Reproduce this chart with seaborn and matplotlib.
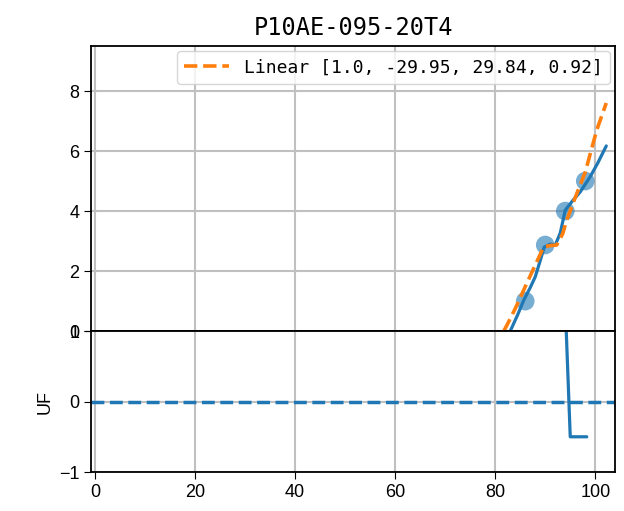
import numpy as np
import pandas as pd
import matplotlib
matplotlib.use("Agg")
import matplotlib.pyplot as plt
import seaborn as sns

# veriler
nokta_x = [86, 90, 94, 98]
nokta_y = [1.0, 2.87, 4.0, 5.0]

egri_x = [83, 84.5, 85.7, 87, 88, 89, 89.8, 91, 92, 93, 94, 95.5, 97, 99, 100.5, 102.2]
egri_y = [0.0, 0.55, 1.03, 1.45, 1.81, 2.35, 2.8, 2.9, 2.87, 3.27, 4.03, 4.35, 4.64, 5.15, 5.6, 6.17]

lineer_x = [81.7, 82.5, 84, 86.3, 88, 89.7, 91, 92.3, 93.5, 94.3, 96, 98, 100.3, 102.2]
lineer_y = [0.0, 0.25, 0.75, 1.59, 2.2, 2.81, 2.85, 2.87, 3.25, 3.7, 4.45, 5.3, 6.7, 7.6]

uf_x = [94.2, 95, 98.3]
uf_y = [1.0, -0.5, -0.5]

baslik = "P10AE-095-20T4"
etiket = "Linear [1.0, -29.95, 29.84, 0.92]"

sns.set_style("white")
plt.rcParams['font.family'] = ['Liberation Sans', 'DejaVu Sans']
plt.rcParams['axes.unicode_minus'] = True
plt.rcParams['text.color'] = 'black'
plt.rcParams['xtick.color'] = 'black'
plt.rcParams['ytick.color'] = 'black'
plt.rcParams['axes.labelcolor'] = 'black'

fig = plt.figure(figsize=(6.24, 5.11), dpi=100)
ax1 = fig.add_axes([0.146, 0.352, 0.84, 0.558])
ax2 = fig.add_axes([0.146, 0.0763, 0.84, 0.2757], sharex=ax1)

df_nokta = pd.DataFrame({"x": nokta_x, "y": nokta_y})
df_egri = pd.DataFrame({"x": egri_x, "y": egri_y})
df_lin = pd.DataFrame({"x": lineer_x, "y": lineer_y})
df_uf = pd.DataFrame({"x": uf_x, "y": uf_y})

sns.scatterplot(data=df_nokta, x="x", y="y", ax=ax1, s=180, color="C0", alpha=0.6, edgecolor="none")
sns.lineplot(data=df_egri, x="x", y="y", ax=ax1, color="C0", lw=2.3, sort=False)
sns.lineplot(data=df_lin, x="x", y="y", ax=ax1, color="C1", lw=2.6, ls="--", sort=False, label=etiket)

ax1.set_xlim(-0.8, 104)
ax1.set_ylim(0, 9.5)
ax1.set_yticks([0, 2, 4, 6, 8])
ax1.grid(True, color="#c0c0c0", lw=1.5)
ax1.set_xlabel("")
ax1.set_ylabel("")
ax1.tick_params(axis="x", labelbottom=False)
ax1.tick_params(labelsize=13, length=5, left=True, bottom=True)
ax1.set_title(baslik, fontsize=17, family="DejaVu Sans Mono", pad=8)
ax1.legend(loc="upper right", prop={"family": "DejaVu Sans Mono", "size": 13},
           handlelength=2.5, borderaxespad=0.3)

sns.lineplot(data=df_uf, x="x", y="y", ax=ax2, color="C0", lw=2.3, sort=False)
ax2.axhline(0, color="C0", ls="--", lw=2.5)
ax2.set_ylim(-1, 1)
ax2.set_yticks([-1, 0, 1])
ax2.grid(True, color="#c0c0c0", lw=1.5)
ax2.set_xlabel("")
ax2.set_ylabel("UF", fontsize=13)
ax2.set_xticks([0, 20, 40, 60, 80, 100])
ax2.tick_params(labelsize=13, length=5, left=True, bottom=True)

for ax in (ax1, ax2):
    for sp in ax.spines.values():
        sp.set_color("black")
        sp.set_linewidth(1.3)

fig.savefig("out.png", dpi=100)
